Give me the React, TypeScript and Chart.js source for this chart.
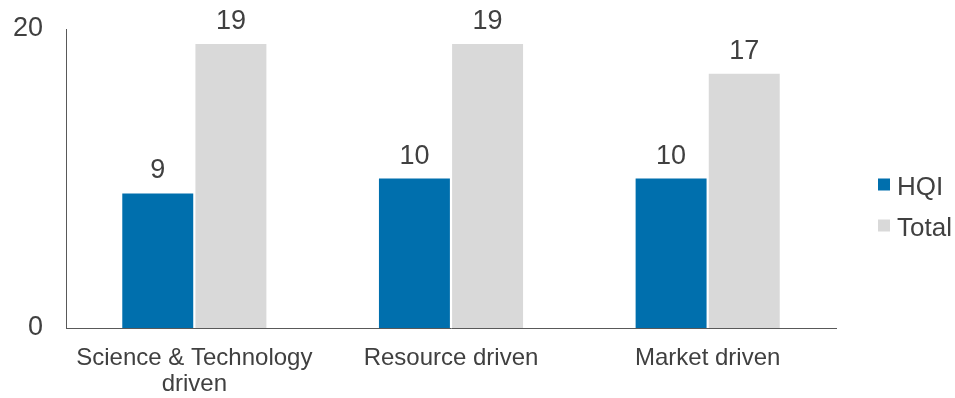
import React, { useEffect, useRef } from "react";
import { Chart, registerables } from "chart.js";

Chart.register(...registerables);

const categories: (string | string[])[] = [["Science & Technology", "driven"], "Resource driven", "Market driven"];
const hqiValues = [9, 10, 10];
const totalValues = [19, 19, 17];
const yTicks = [0, 20];

const BLUE = "#006FAD";
const GRAY = "#D9D9D9";
const TEXT = "#404040";
const AXIS = "#595959";
const FONT = "'Liberation Sans', Arial, sans-serif";

const valueLabels = {
  id: "valueLabels",
  afterDatasetsDraw(chart: any) {
    const ctx = chart.ctx;
    ctx.save();
    ctx.fillStyle = TEXT;
    ctx.font = `27px ${FONT}`;
    ctx.textAlign = "center";
    ctx.textBaseline = "alphabetic";
    chart.data.datasets.forEach((ds: any, i: number) => {
      const meta = chart.getDatasetMeta(i);
      meta.data.forEach((el: any, j: number) => {
        ctx.fillText(String(ds.data[j]), el.x, el.y - 15);
      });
    });
    ctx.restore();
  },
};

const sideLegend = {
  id: "sideLegend",
  afterDraw(chart: any) {
    const ctx = chart.ctx;
    ctx.save();
    ctx.font = `26px ${FONT}`;
    ctx.textAlign = "left";
    ctx.textBaseline = "middle";
    const x0 = chart.chartArea.right + 42;
    const centers = [184.5, 225.5];
    chart.data.datasets.forEach((ds: any, i: number) => {
      const cy = centers[i];
      ctx.fillStyle = ds.backgroundColor;
      ctx.fillRect(x0, cy - 6, 12, 12);
      ctx.fillStyle = TEXT;
      ctx.fillText(ds.label, x0 + 19, cy + 3);
    });
    ctx.restore();
  },
};

export default function App() {
  const ref = useRef<HTMLCanvasElement>(null);
  useEffect(() => {
    if (!ref.current) return;
    const chart = new Chart(ref.current, {
      type: "bar",
      data: {
        labels: categories,
        datasets: [
          { label: "HQI", data: hqiValues, backgroundColor: BLUE, barPercentage: 0.97, categoryPercentage: 0.57 },
          { label: "Total", data: totalValues, backgroundColor: GRAY, barPercentage: 0.97, categoryPercentage: 0.57 },
        ],
      },
      options: {
        animation: false,
        responsive: false,
        maintainAspectRatio: false,
        layout: { padding: { top: 29, right: 119, left: 0, bottom: 0 } },
        plugins: { legend: { display: false }, tooltip: { enabled: false } },
        scales: {
          x: {
            grid: { display: false, drawTicks: false },
            border: { display: true, color: AXIS, width: 1 },
            ticks: { color: TEXT, font: { family: FONT, size: 24, lineHeight: 1.1 }, padding: 17, maxRotation: 0, autoSkip: false },
            afterFit: (s: any) => { s.height = 70; s.paddingLeft = 0; s.paddingRight = 0; },
          },
          y: {
            min: yTicks[0],
            max: yTicks[yTicks.length - 1],
            grid: { display: false, drawTicks: false },
            border: { display: true, color: AXIS, width: 1 },
            ticks: { color: TEXT, font: { family: FONT, size: 27 }, padding: 23, stepSize: 20 },
            afterBuildTicks: (s: any) => { s.ticks = yTicks.map((v) => ({ value: v })); },
            afterFit: (s: any) => { s.width = 66; s.paddingTop = 0; s.paddingBottom = 0; },
          },
        },
      },
      plugins: [valueLabels, sideLegend],
    });
    return () => chart.destroy();
  }, []);
  return (
    <div style={{ position: "absolute", left: 0, top: 0, width: 955, height: 398, background: "#fff" }}>
      <canvas ref={ref} width={955} height={398} style={{ width: 955, height: 398, display: "block" }} />
    </div>
  );
}
